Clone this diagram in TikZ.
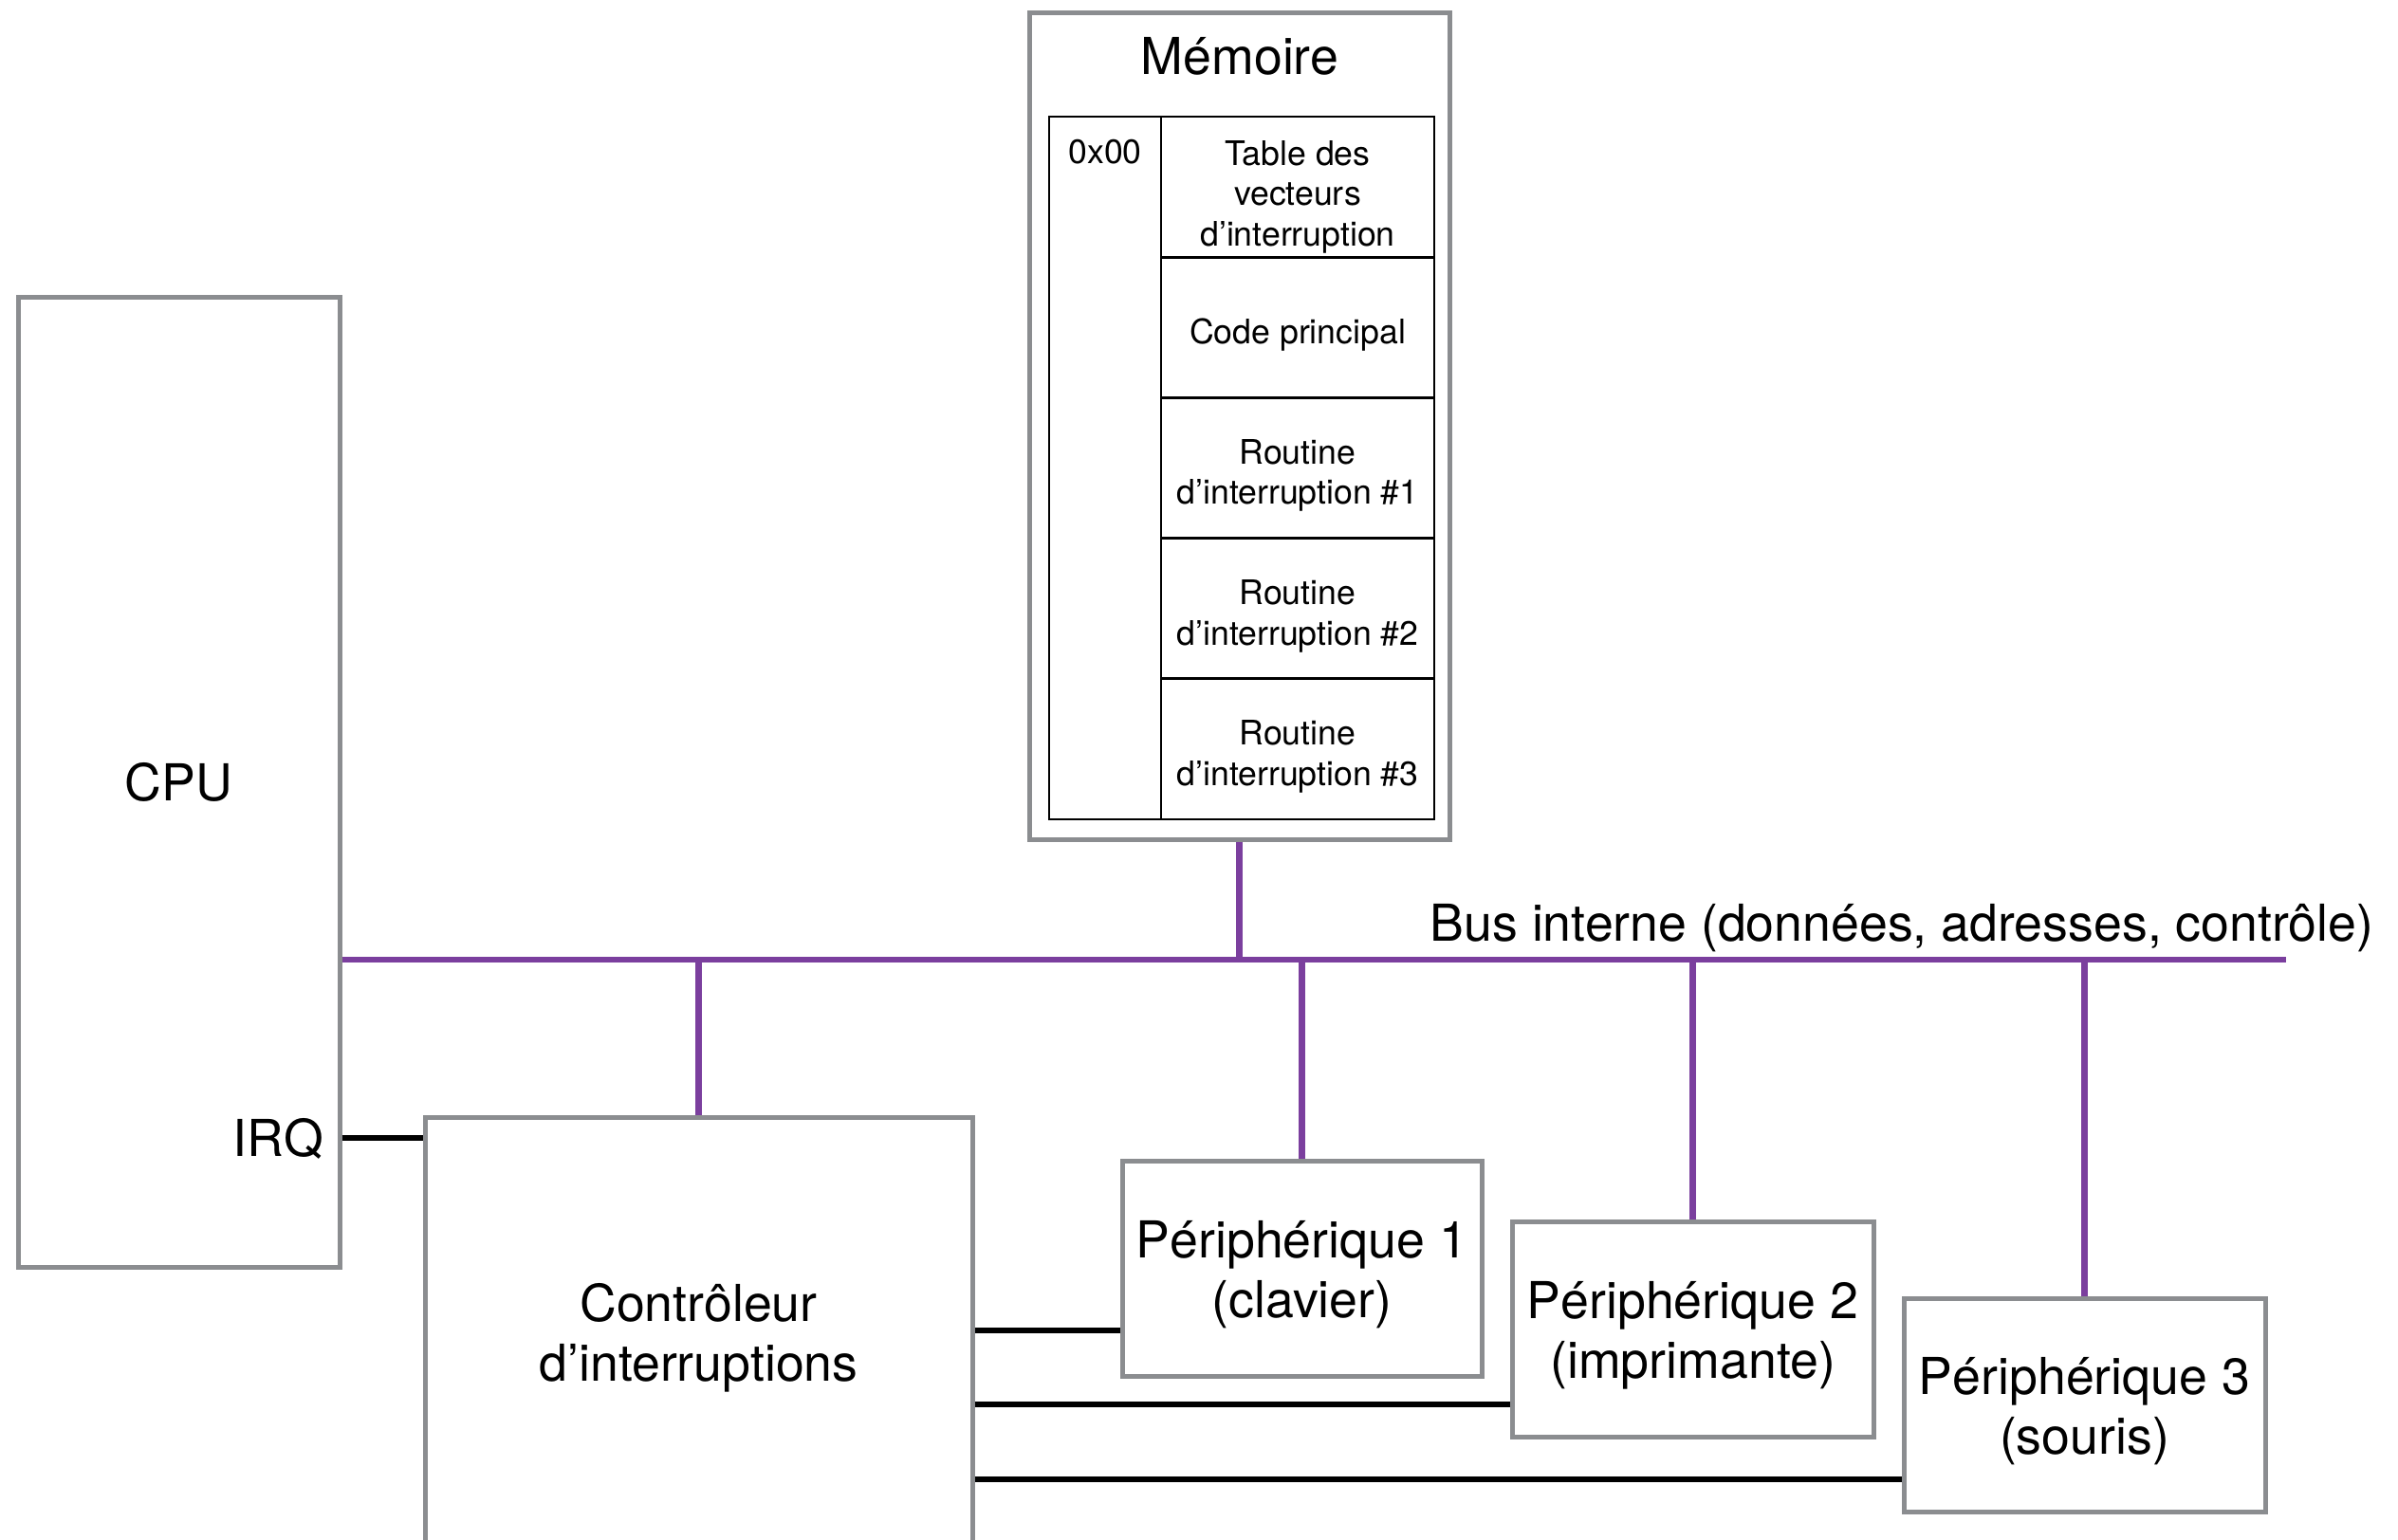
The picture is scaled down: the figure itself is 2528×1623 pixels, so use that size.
\documentclass[tikz,border=0pt]{standalone}
\usepackage{fontspec}
\setmainfont{TeX Gyre Heros}
\definecolor{boxgray}{HTML}{8B8D90}
\definecolor{buspurple}{HTML}{7B3F9E}
\newcommand\mybig{\fontsize{16.1}{19}\selectfont}
\newcommand\mysmall{\fontsize{10.7}{12.75}\selectfont}
\begin{document}
\begin{tikzpicture}[x=0.3pt,y=-0.3pt,
  gbox/.style={draw=boxgray,line width=1.5pt,fill=white,inner sep=0pt},
  cell/.style={draw=black,line width=0.8pt,inner sep=0pt,minimum width=86.4pt,minimum height=44.46pt},
  bus/.style={draw=buspurple,line width=1.9pt},
  wire/.style={draw=black,line width=1.7pt},
  lbl/.style={font=\mybig,inner sep=0pt,align=center},
  slbl/.style={font=\mysmall,inner sep=0pt,align=center,yshift=-2.4pt}]
\useasboundingbox (0,0) rectangle (2528,1623);
\clip (0,0) rectangle (2528,1623);
\fill[white] (0,0) rectangle (2528,1623);

% CPU
\node[gbox,minimum width=101.7pt,minimum height=306.9pt] (cpu) at (188.5,824.5) {};
\node[lbl] (cputxt) at (cpu.center) {CPU};
\node[lbl,anchor=base east] (irq) at (342,1219) {IRQ};

% Memory
\node[gbox,minimum width=132.9pt,minimum height=261.6pt] (mem) at (1306.5,449) {};
\node[lbl,anchor=base] (memtitle) at (1307,78) {Mémoire};
\node[cell,minimum width=35.4pt,minimum height=222.3pt] (addr) at (1165,493.5) {};
\node[font=\mysmall,inner sep=0pt,anchor=base] (addrtxt) at (1165,172) {0x00};
\node[cell] (r1) at (1368,197.1) {};
\node[cell] (r2) at (1368,345.3) {};
\node[cell] (r3) at (1368,493.5) {};
\node[cell] (r4) at (1368,641.7) {};
\node[cell] (r5) at (1368,789.9) {};
\node[slbl,yshift=-0.8pt] (r1txt) at (r1.center) {Table des\\vecteurs\\d’interruption};
\node[slbl] (r2txt) at (r2.center) {Code principal};
\node[slbl] (r3txt) at (r3.center) {Routine\\d’interruption \#1};
\node[slbl] (r4txt) at (r4.center) {Routine\\d’interruption \#2};
\node[slbl] (r5txt) at (r5.center) {Routine\\d’interruption \#3};

% Controller and peripherals
\node[gbox,minimum width=173.1pt,minimum height=135.6pt] (ctl) at (736.5,1404) {};
\node[gbox,minimum width=113.7pt,minimum height=68.1pt] (p1) at (1372.5,1337.5) {};
\node[gbox,minimum width=114.3pt,minimum height=68.1pt] (p2) at (1784.5,1401.5) {};
\node[gbox,minimum width=114.3pt,minimum height=67.5pt] (p3) at (2197.5,1481.5) {};
\node[lbl,yshift=-2pt] (ctltxt) at (ctl.center) {Contrôleur\\d’interruptions};
\node[lbl,yshift=-2pt] (p1txt) at (p1.center) {Périphérique 1\\(clavier)};
\node[lbl,yshift=-2pt] (p2txt) at (p2.center) {Périphérique 2\\(imprimante)};
\node[lbl,yshift=-2pt] (p3txt) at (p3.center) {Périphérique 3\\(souris)};

% Bus
\coordinate (busy) at (0,1012);
\coordinate (busL) at (cpu.east |- busy);
\coordinate (busR) at (2410,1012);
\draw[bus] (busL) -- (busR);
\node[lbl,anchor=base west] (buslabel) at (1507,992) {Bus interne (données, adresses, contrôle)};
\draw[bus] (mem.south) -- (mem.south |- busL);
\draw[bus] (ctl.north) -- (ctl.north |- busL);
\draw[bus] (p1.north) -- (p1.north |- busL);
\draw[bus] (p2.north) -- (p2.north |- busL);
\draw[bus] (p3.north) -- (p3.north |- busL);

% Interrupt wires
\coordinate (wq) at (0,1200);
\coordinate (w1) at (0,1403);
\coordinate (w2) at (0,1481);
\coordinate (w3) at (0,1560);
\draw[wire] (cpu.east |- wq) -- (ctl.west |- wq);
\draw[wire] (ctl.east |- w1) -- (p1.west |- w1);
\draw[wire] (ctl.east |- w2) -- (p2.west |- w2);
\draw[wire] (ctl.east |- w3) -- (p3.west |- w3);
\end{tikzpicture}
\end{document}
